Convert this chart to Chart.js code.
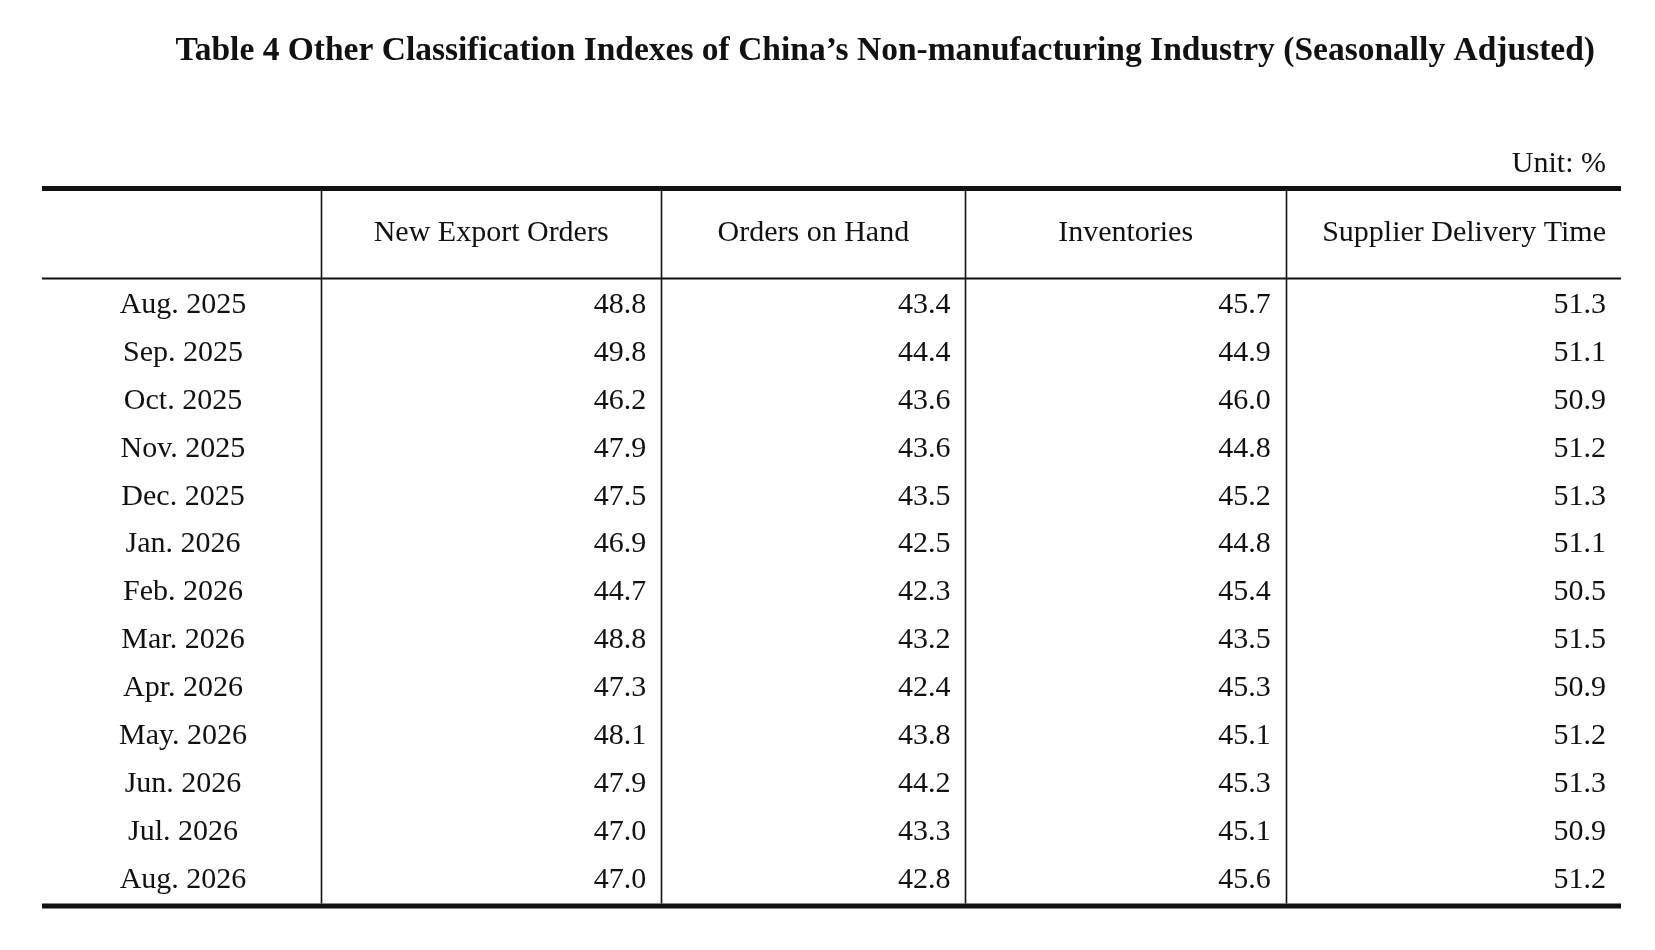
<!DOCTYPE html>
<html>
<head>
<meta charset="utf-8">
<script src="https://cdn.jsdelivr.net/npm/chart.js@4.4.1/dist/chart.umd.min.js"></script>
<style>
  html, body { margin: 0; padding: 0; background: #fff; overflow: hidden; }
  canvas { display: block; }
</style>
</head>
<body>
<canvas id="table4" width="1655" height="950" style="width:1655px;height:950px"></canvas>
<script>
const titleText = 'Table 4 Other Classification Indexes of China\u2019s Non-manufacturing Industry (Seasonally Adjusted)';
const unitText = 'Unit: %';

const months = ['Aug. 2025', 'Sep. 2025', 'Oct. 2025', 'Nov. 2025', 'Dec. 2025', 'Jan. 2026', 'Feb. 2026',
  'Mar. 2026', 'Apr. 2026', 'May. 2026', 'Jun. 2026', 'Jul. 2026', 'Aug. 2026'];
const columns = ['New Export Orders', 'Orders on Hand', 'Inventories', 'Supplier Delivery Time'];

const newExportOrders = [48.8, 49.8, 46.2, 47.9, 47.5, 46.9, 44.7, 48.8, 47.3, 48.1, 47.9, 47.0, 47.0];
const ordersOnHand = [43.4, 44.4, 43.6, 43.6, 43.5, 42.5, 42.3, 43.2, 42.4, 43.8, 44.2, 43.3, 42.8];
const inventories = [45.7, 44.9, 46.0, 44.8, 45.2, 44.8, 45.4, 43.5, 45.3, 45.1, 45.3, 45.1, 45.6];
const supplierDeliveryTime = [51.3, 51.1, 50.9, 51.2, 51.3, 51.1, 50.5, 51.5, 50.9, 51.2, 51.3, 50.9, 51.2];

const series = [newExportOrders, ordersOnHand, inventories, supplierDeliveryTime];

// layout, in px
const colWidths = [340, 304, 320, 335];
const labelColWidth = 279;
const headerHeight = 90;
const cellPad = 15;
const serif = "'Liberation Serif', 'Times New Roman', serif";
const ink = '#111';

const edges = [0];
colWidths.forEach(w => edges.push(edges[edges.length - 1] + w));

const tablePlugin = {
  id: 'tableRules',
  beforeDraw(chart) {
    const { ctx, width, height } = chart;
    ctx.save();
    ctx.fillStyle = '#fff';
    ctx.fillRect(0, 0, width, height);
    ctx.restore();
  },
  afterDatasetsDraw(chart) {
    const { ctx, chartArea: a, scales: { x, y } } = chart;
    const left = y.left;
    const sepY = a.top - 2.5;
    const topY = sepY - headerHeight;
    const botY = a.bottom + 2;

    ctx.save();
    ctx.fillStyle = ink;
    ctx.strokeStyle = ink;

    // cell values
    ctx.font = `30px ${serif}`;
    ctx.textAlign = 'right';
    ctx.textBaseline = 'middle';
    chart.data.datasets.forEach((ds, c) => {
      chart.getDatasetMeta(c).data.forEach((pt, i) => {
        ctx.fillText(ds.data[i].v.toFixed(1), pt.x - cellPad, pt.y);
      });
    });

    // column headers
    ctx.textBaseline = 'alphabetic';
    columns.forEach((name, c) => {
      const x0 = x.getPixelForValue(edges[c]);
      const x1 = x.getPixelForValue(edges[c + 1]);
      if (c === columns.length - 1) {
        ctx.textAlign = 'right';
        ctx.fillText(name, x1 - cellPad, sepY - 37.5);
      } else {
        ctx.textAlign = 'center';
        ctx.fillText(name, (x0 + x1) / 2, sepY - 37.5);
      }
    });

    // unit
    ctx.textAlign = 'right';
    ctx.fillText(unitText, a.right - cellPad, topY - 16.5);

    // title
    ctx.font = `bold 33.5px ${serif}`;
    ctx.textAlign = 'right';
    ctx.fillText(titleText, a.right - 26, 60);

    // rules
    ctx.lineWidth = 5;
    ctx.beginPath();
    ctx.moveTo(left, topY); ctx.lineTo(a.right, topY);
    ctx.moveTo(left, botY); ctx.lineTo(a.right, botY);
    ctx.stroke();

    ctx.lineWidth = 2;
    ctx.beginPath();
    ctx.moveTo(left, sepY); ctx.lineTo(a.right, sepY);
    ctx.stroke();

    ctx.lineWidth = 1.6;
    ctx.beginPath();
    for (let c = 0; c < columns.length; c++) {
      const px = Math.round(x.getPixelForValue(edges[c])) + 0.5;
      ctx.moveTo(px, topY + 2.5);
      ctx.lineTo(px, botY - 2.5);
    }
    ctx.stroke();
    ctx.restore();
  }
};

new Chart(document.getElementById('table4'), {
  type: 'scatter',
  data: {
    datasets: columns.map((name, c) => ({
      label: name,
      data: series[c].map((v, i) => ({ x: edges[c + 1], y: months[i], v })),
      pointRadius: 0,
      pointHoverRadius: 0
    }))
  },
  options: {
    responsive: false,
    devicePixelRatio: 1,
    animation: false,
    events: [],
    layout: { padding: { left: 42, right: 34, top: 281, bottom: 46 } },
    plugins: {
      legend: { display: false },
      tooltip: { enabled: false },
      title: { display: false }
    },
    scales: {
      x: { type: 'linear', min: 0, max: edges[edges.length - 1], display: false },
      y: {
        type: 'category',
        labels: months,
        offset: true,
        grid: { display: false, drawTicks: false },
        border: { display: false },
        ticks: {
          autoSkip: false,
          color: ink,
          font: { family: serif, size: 30 },
          crossAlign: 'center',
          padding: 74
        },
        afterFit: scale => {
          // the row-label column has a fixed width; the big tick padding must not pad the chart area
          scale.width = labelColWidth;
          scale.paddingTop = 0;
          scale.paddingBottom = 0;
        }
      }
    }
  },
  plugins: [tablePlugin]
});
</script>
</body>
</html>
